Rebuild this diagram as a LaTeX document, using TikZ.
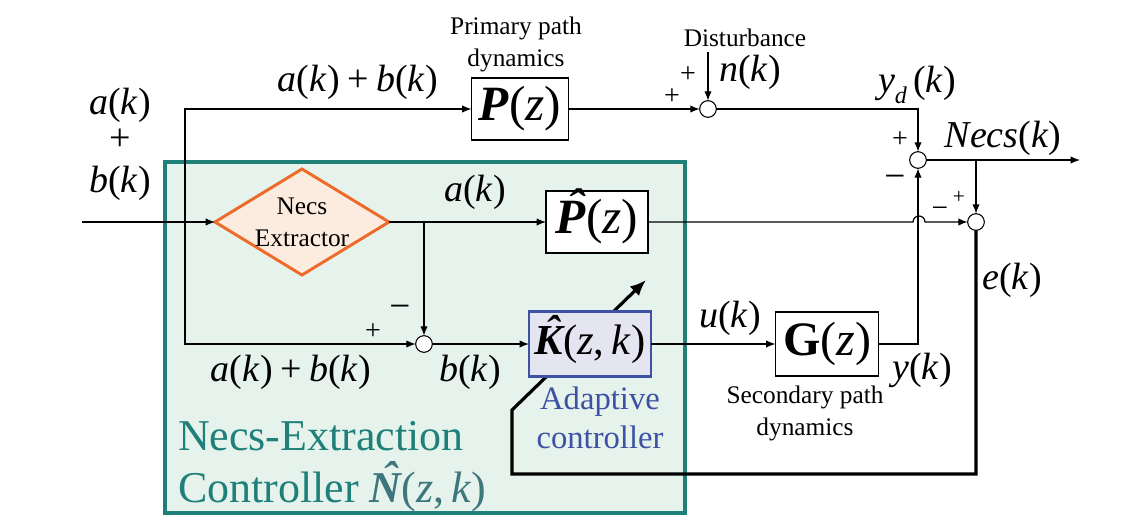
\documentclass[tikz,border=0pt]{standalone}
\usepackage{fontspec}
\setmainfont{Liberation Serif}
\usetikzlibrary{arrows.meta,shapes.geometric}
\pgfdeclarelayer{bglayer}
\pgfdeclarelayer{midlayer}
\pgfsetlayers{bglayer,midlayer,main}
\definecolor{tealc}{RGB}{30,128,120}
\definecolor{tealfill}{RGB}{230,243,237}
\definecolor{orng}{RGB}{238,106,40}
\definecolor{orngfill}{RGB}{252,236,224}
\definecolor{bluec}{RGB}{62,82,165}
\definecolor{bluefill}{RGB}{229,229,242}
\definecolor{nhat}{RGB}{62,118,126}
\newcommand{\myi}[1]{\textit{#1}}
\newcommand{\mybi}[1]{\textbf{\textit{#1}}}
\newcommand{\myhat}[1]{{\bfseries\itshape\ooalign{#1\cr\hidewidth\kern0.18em\raisebox{0.21em}{ˆ}\hidewidth\cr}}}
\newcommand{\ak}[1]{\myi{#1}(\myi{k})}
\newcommand{\mypl}{\hspace{0.2em}+\hspace{0.2em}}
\begin{document}
\begin{tikzpicture}[x=0.75pt,y=-0.75pt,
 every node/.style={inner sep=0pt,outer sep=0pt},
 arr/.style={line width=0.9pt,-{Latex[length=7pt,width=5.5pt]}},
 earr/.style={line width=2.4pt,line join=miter,-{Latex[length=12pt,width=10pt]}},
 blk/.style={draw,line width=0.8pt,fill=white},
 sumc/.style={draw,circle,line width=0.8pt,fill=white,minimum size=12.5pt},
 lbl/.style={font=\fontsize{28.5}{30}\selectfont},
 sml/.style={font=\fontsize{19}{24}\selectfont,align=center},
 sgn/.style={font=\fontsize{21}{21}\selectfont},
 msgn/.style={font=\fontsize{28}{28}\selectfont},
 ssgn/.style={font=\fontsize{16}{16}\selectfont},
 smsgn/.style={font=\fontsize{22}{22}\selectfont},
 boxtxt/.style={font=\fontsize{37}{37}\selectfont},
]
\useasboundingbox (0,0) rectangle (1138,514);

\begin{pgfonlayer}{bglayer}
\node[draw=tealc,fill=tealfill,line width=3pt,minimum width=390pt,minimum height=263.25pt] (ctrl) at (425,337.5) {};
\end{pgfonlayer}

\node[diamond,draw=orng,fill=orngfill,line width=2.2pt,minimum width=130.5pt,minimum height=79.5pt] (ex) at (302,222) {};
\node[sml] (extxt) at (ex.center) {Necs\\Extractor};

\node[sumc] (s1) at (708,109) {};
\node[sumc] (s2) at (918,160) {};
\node[sumc] (s3) at (976,222) {};
\node[sumc] (s4) at (424,344) {};

\node[blk,boxtxt,minimum width=72.75pt,minimum height=46.5pt] (P) at (520,109) {\mybi{P}(\myi{z})};
\node[blk,boxtxt,minimum width=76.5pt,minimum height=46.5pt] (Ph) at (597,222) {\myhat{P}(\myi{z})};
\node[draw=bluec,fill=bluefill,line width=2.2pt,font=\fontsize{32}{32}\selectfont,minimum width=91.5pt,minimum height=48.75pt] (K) at (590,344) {\myhat{K}(\myi{z},\,\myi{k})};
\node[blk,font=\fontsize{36}{36}\selectfont,minimum width=77.25pt,minimum height=48pt] (G) at (827,344) {\textbf{G}(\myi{z})};

\coordinate (in) at (82,222);
\coordinate (j1) at (185,222);
\coordinate (j2) at (424,222);
\coordinate (nk) at (708,52);
\coordinate (j3) at (976,160);
\coordinate (out) at (1080,160);
\coordinate (hop) at (913,222);
\coordinate (ec) at (512,474);
\coordinate (ed) at (512,410);
\coordinate (adapt) at (646,280);

\draw[arr] (in) -- (ex.west);
\draw[arr] (j1) |- (P.west);
\draw[arr] (j1) |- (s4.west);
\draw[arr] (ex.east) -- (Ph.west);
\draw[arr] (j2) -- (s4.north);
\draw[arr] (s4.east) -- (K.west);
\draw[arr] (K.east) -- (G.west);
\draw[arr] (P.east) -- (s1.west);
\draw[arr] (nk) -- (s1.north);
\draw[arr] (s1.east) -| (s2.north);
\draw[arr] (G.east) -| (s2.south);
\draw[arr] (s2.east) -- (out);
\draw[arr] (j3) -- (s3.north);
\draw[arr] (Ph.east) -- (hop) arc[start angle=180,end angle=0,radius=4.5pt] -- (s3.west);

\begin{pgfonlayer}{midlayer}
\draw[earr] (s3.south) |- (ec) -- (ed) -- (adapt);
\end{pgfonlayer}

\node[lbl] (lab1) at (358,82) {\ak{a}\mypl\ak{b}};
\node[lbl] (lab2) at (120,105) {\ak{a}};
\node[lbl] (lab3) at (120,140) {+};
\node[lbl] (lab4) at (120,183) {\ak{b}};
\node[lbl] (lab5) at (475,192) {\ak{a}};
\node[lbl] (lab6) at (291,372) {\ak{a}\mypl\ak{b}};
\node[lbl] (lab7) at (470,372) {\ak{b}};
\node[lbl] (lab8) at (730,318) {\ak{u}};
\node[lbl] (lab9) at (922,370) {\ak{y}};
\node[lbl] (lab10) at (917,85) {\myi{y}\raisebox{-0.3em}{\fontsize{18}{18}\selectfont\myi{d}}\,(\myi{k})};
\node[lbl] (lab11) at (1003,138) {\ak{Necs}};
\node[lbl] (lab12) at (1012,280) {\ak{e}};
\node[lbl] (lab13) at (750,72) {\ak{n}};
\node[sml] (lab14) at (516,44) {Primary path\\dynamics};
\node[sml] (lab15) at (745,38) {Disturbance};
\node[sml] (lab16) at (805,413) {Secondary path\\dynamics};
\node[font=\fontsize{24.5}{29}\selectfont,text=bluec,align=center] (lab17) at (600,418) {Adaptive\\controller};

\node[anchor=base west,font=\fontsize{33}{33}\selectfont,text=tealc] (t1) at (178,450) {Necs-Extraction};
\node[anchor=base west,font=\fontsize{33}{33}\selectfont,text=tealc] (t2) at (178,502) {Controller {\color{nhat}\myhat{N}(\myi{z},\,\myi{k})}};

\node[sgn] (p1) at (672,97) {+};
\node[sgn] (p2) at (688,75) {+};
\node[sgn] (p3) at (900,140) {+};
\node[msgn] (m1) at (895,182) {−};
\node[ssgn] (p4) at (959,197) {+};
\node[smsgn] (m2) at (940,212) {−};
\node[msgn] (m3) at (400,312) {−};
\node[sgn] (p5) at (373,332) {+};
\end{tikzpicture}
\end{document}
